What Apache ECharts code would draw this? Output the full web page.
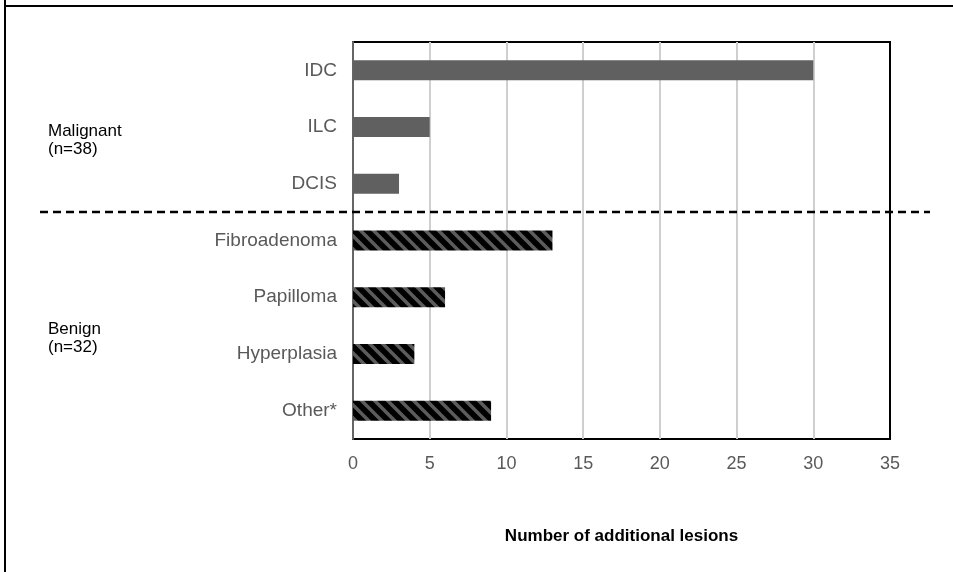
<!DOCTYPE html>
<html>
<head>
<meta charset="utf-8">
<style>
  html, body { margin: 0; padding: 0; background: #fff; }
  #chart { width: 953px; height: 572px; }
</style>
<script src="https://cdn.jsdelivr.net/npm/echarts@6/dist/echarts.min.js"></script>
</head>
<body>
<div id="chart"></div>
<script>
const categories = ['IDC', 'ILC', 'DCIS', 'Fibroadenoma', 'Papilloma', 'Hyperplasia', 'Other*']
const lesionCounts = [30, 5, 3, 13, 6, 4, 9]
const groups = ['malignant', 'malignant', 'malignant', 'benign', 'benign', 'benign', 'benign']
const xTicks = [0, 5, 10, 15, 20, 25, 30, 35]

// hatched fill for benign bars
function makeHatch() {
  const size = 13
  const c = document.createElement('canvas')
  c.width = size
  c.height = size
  const ctx = c.getContext('2d')
  ctx.fillStyle = '#000'
  ctx.fillRect(0, 0, size, size)
  ctx.strokeStyle = '#5c5c5c'
  ctx.lineWidth = 3.5
  for (const off of [-size, 0, size]) {
    ctx.beginPath()
    ctx.moveTo(off - 2, -2)
    ctx.lineTo(off + size + 2, size + 2)
    ctx.stroke()
  }
  return c
}

const hatch = { image: makeHatch(), repeat: 'repeat' }
const font = "'Liberation Sans', Arial, sans-serif"

const chart = echarts.init(document.getElementById('chart'))
chart.setOption({
  animation: false,
  textStyle: { fontFamily: font },
  grid: {
    left: 353, right: 63, top: 42, bottom: 133,
    show: true, borderColor: '#000', borderWidth: 2, backgroundColor: 'transparent'
  },
  xAxis: {
    type: 'value',
    min: xTicks[0],
    max: xTicks[xTicks.length - 1],
    interval: 5,
    name: 'Number of additional lesions',
    nameLocation: 'middle',
    nameGap: 89,
    nameTextStyle: { fontSize: 17, fontWeight: 'bold', color: '#000', fontFamily: font },
    axisLine: { show: false },
    axisTick: { show: false },
    axisLabel: { fontSize: 18, color: '#595959', margin: 16, fontFamily: font },
    splitLine: { show: true, showMaxLine: false, lineStyle: { color: '#cfcfcf', width: 2 } }
  },
  yAxis: {
    type: 'category',
    data: categories,
    inverse: true,
    axisLine: { show: true, lineStyle: { color: '#666', width: 2 } },
    axisTick: { show: false },
    axisLabel: { fontSize: 19, color: '#595959', margin: 16, fontFamily: font }
  },
  series: [{
    type: 'bar',
    barWidth: 20,
    data: lesionCounts.map((v, i) => ({
      value: v,
      itemStyle: { color: groups[i] === 'benign' ? hatch : '#606060' }
    }))
  }],
  graphic: [
    { type: 'line', shape: { x1: 5, y1: 0, x2: 5, y2: 572 }, style: { stroke: '#000', lineWidth: 2 } },
    { type: 'line', shape: { x1: 5, y1: 6, x2: 953, y2: 6 }, style: { stroke: '#000', lineWidth: 2 } },
    { type: 'line', z: 10, shape: { x1: 40, y1: 212, x2: 930, y2: 212 }, style: { stroke: '#000', lineWidth: 2.5, lineDash: [8, 5] } },
    { type: 'text', left: 48, top: 122, style: { text: 'Malignant\n(n=38)', fontSize: 17, lineHeight: 18, fill: '#000', fontFamily: font } },
    { type: 'text', left: 48, top: 320, style: { text: 'Benign\n(n=32)', fontSize: 17, lineHeight: 18, fill: '#000', fontFamily: font } }
  ]
})
</script>
</body>
</html>
